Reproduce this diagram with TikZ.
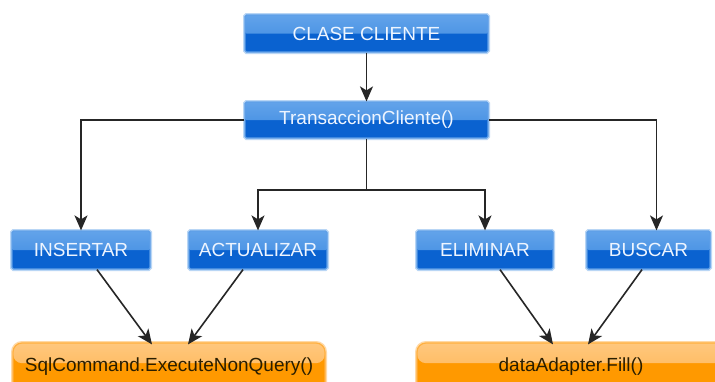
\documentclass[tikz,border=0pt]{standalone}
\usepackage{fontspec}
\setmainfont{Liberation Sans}
\usetikzlibrary{arrows.meta,calc}
\definecolor{bluebase}{HTML}{0A62D0}
\definecolor{bluetop}{HTML}{3A88E0}
\definecolor{bluetop2}{HTML}{62A3EA}
\definecolor{blueedge}{HTML}{5E9FE8}
\definecolor{blueglow}{HTML}{B9D6F5}
\definecolor{orbase}{HTML}{FF9900}
\definecolor{ortop}{HTML}{FFB24A}
\definecolor{ortop2}{HTML}{FFC77D}
\definecolor{oredge}{HTML}{FFB040}
\definecolor{orglow}{HTML}{FFD9A6}
\definecolor{btext}{HTML}{EEF5FF}
\definecolor{otext}{HTML}{2A1E00}
\tikzset{
  bluebox/.style={draw=blueedge, line width=1.2pt, fill=bluebase, inner sep=0pt,
    preaction={draw=blueglow, line width=4pt},
    rounded corners=1.5pt,
    path picture={\shade[top color=bluetop2, bottom color=bluetop]
      (path picture bounding box.north west) rectangle (path picture bounding box.east);},
    text=btext, font=\fontsize{19}{21}\selectfont},
  orbox/.style={draw=oredge, line width=1.2pt, fill=orbase, inner sep=0pt,
    preaction={draw=orglow, line width=4pt},
    rounded corners=9pt,
    path picture={\shade[top color=ortop2, bottom color=ortop]
      (path picture bounding box.north west) rectangle ($(path picture bounding box.north east)!0.42!(path picture bounding box.south east)$);},
    text=otext, font=\fontsize{19}{21}\selectfont},
  conn/.style={line width=1.6pt, draw=black!85},
  arr/.style={conn, -{Stealth[length=15pt,width=13pt,inset=4pt]}}
}
\begin{document}
\begin{tikzpicture}[x=1pt,y=-1pt]
\useasboundingbox (0,0) rectangle (715,381);
\clip (0,0) rectangle (715,381);
\fill[white] (0,0) rectangle (715,381);
\node[bluebox, minimum width=243pt, minimum height=37pt] (clase) at (366.5,33.5) {CLASE CLIENTE};
\node[bluebox, minimum width=243pt, minimum height=36pt] (trans) at (366.5,120) {TransaccionCliente()};
\node[bluebox, minimum width=138pt, minimum height=38pt] (ins) at (81,250) {INSERTAR};
\node[bluebox, minimum width=138pt, minimum height=38pt] (act) at (258,250) {ACTUALIZAR};
\node[bluebox, minimum width=136pt, minimum height=38pt] (elim) at (485,250) {ELIMINAR};
\node[bluebox, minimum width=123pt, minimum height=38pt] (busc) at (648.5,250) {BUSCAR};
\node[orbox, minimum width=312pt, minimum height=48pt] (sql) at (169,367) {SqlCommand.ExecuteNonQuery()};
\node[orbox, minimum width=308pt, minimum height=48pt] (data) at (571,367) {dataAdapter.Fill()};
\coordinate (split) at (366.5,190);
\draw[arr] (clase) -- (trans);
\draw[arr] (trans.west) -| (ins.north);
\draw[arr] (trans.east) -| ([xshift=8pt]busc.north);
\draw[conn] (trans.south) -- (split);
\draw[arr] (split) -| (act.north);
\draw[arr] (split) -| (elim.north);
\draw[arr] ([xshift=16pt]ins.south) -- ([xshift=-17pt,yshift=-2pt]sql.north);
\draw[arr] ([xshift=-15pt]act.south) -- ([xshift=19pt,yshift=-2pt]sql.north);
\draw[arr] ([xshift=15pt]elim.south) -- ([xshift=-18pt,yshift=-2pt]data.north);
\draw[arr] ([xshift=-6.5pt]busc.south) -- ([xshift=17pt,yshift=-2pt]data.north);
\end{tikzpicture}
\end{document}
